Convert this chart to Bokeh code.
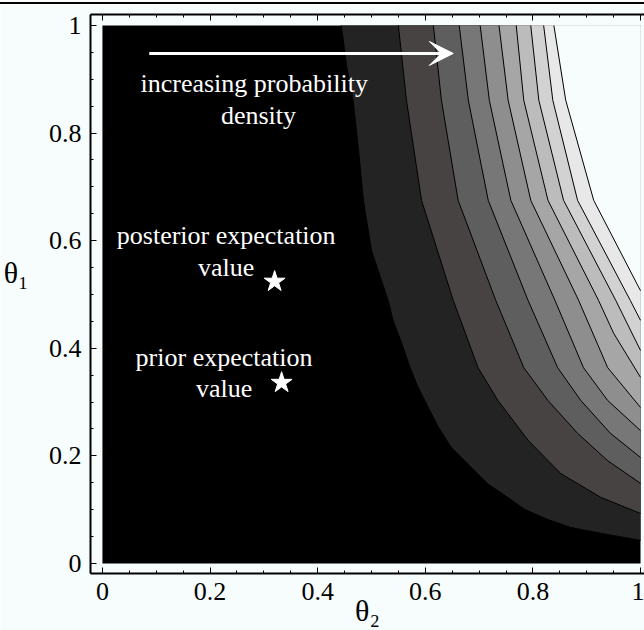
from bokeh.plotting import figure
from bokeh.models import Range1d, LinearAxis, FixedTicker, Arrow, VeeHead, Div
from bokeh.layouts import column
from bokeh.embed import file_html
from bokeh.resources import INLINE
from bokeh.core.properties import value

# ---- data ----
# contour boundaries, each running from the top edge (theta1 = 1) to the right edge (theta2 = 1)
b1_t2 = [0.444, 0.454, 0.466, 0.476, 0.485, 0.500, 0.531, 0.540, 0.556, 0.571, 0.586, 0.605,
         0.624, 0.648, 0.679, 0.716, 0.753, 0.784, 0.827, 0.870, 0.932, 1.0]
b1_t1 = [1.0, 0.923, 0.861, 0.768, 0.675, 0.582, 0.489, 0.452, 0.410, 0.366, 0.329, 0.291,
         0.254, 0.216, 0.185, 0.148, 0.123, 0.101, 0.082, 0.067, 0.055, 0.043]
b2_t2 = [0.550, 0.565, 0.593, 0.652, 0.698, 0.735, 0.791, 0.852, 0.926, 1.0]
b2_t1 = [1.0, 0.861, 0.675, 0.489, 0.364, 0.303, 0.229, 0.167, 0.123, 0.093]
b3_t2 = [0.615, 0.630, 0.661, 0.731, 0.783, 0.828, 0.883, 0.939, 1.0]
b3_t1 = [1.0, 0.861, 0.675, 0.489, 0.364, 0.303, 0.242, 0.191, 0.149]
b4_t2 = [0.663, 0.680, 0.717, 0.791, 0.846, 0.889, 0.944, 1.0]
b4_t1 = [1.0, 0.861, 0.675, 0.489, 0.364, 0.303, 0.242, 0.197]
b5_t2 = [0.702, 0.719, 0.759, 0.841, 0.894, 0.939, 1.0]
b5_t1 = [1.0, 0.861, 0.675, 0.489, 0.364, 0.303, 0.247]
b6_t2 = [0.737, 0.754, 0.796, 0.885, 0.939, 1.0]
b6_t1 = [1.0, 0.861, 0.675, 0.489, 0.364, 0.290]
b7_t2 = [0.769, 0.783, 0.828, 0.922, 0.950, 1.0]
b7_t1 = [1.0, 0.861, 0.675, 0.489, 0.428, 0.346]
b8_t2 = [0.796, 0.811, 0.857, 0.954, 1.0]
b8_t1 = [1.0, 0.861, 0.675, 0.489, 0.396]
b9_t2 = [0.820, 0.837, 0.883, 0.981, 1.0]
b9_t1 = [1.0, 0.861, 0.675, 0.489, 0.452]
b10_t2 = [0.839, 0.861, 0.913, 1.0]
b10_t1 = [1.0, 0.861, 0.675, 0.507]

boundaries_t2 = [b1_t2, b2_t2, b3_t2, b4_t2, b5_t2, b6_t2, b7_t2, b8_t2, b9_t2, b10_t2]
boundaries_t1 = [b1_t1, b2_t1, b3_t1, b4_t1, b5_t1, b6_t1, b7_t1, b8_t1, b9_t1, b10_t1]
band_colors = ["#232323", "#474343", "#5e5e5e", "#777777", "#8e8e8e",
               "#a6a6a6", "#bcbcbc", "#d2d2d2", "#e8e8e8", "#f7fcfc"]

domain_min = 0.0
domain_max = 1.0

star_t2 = [0.320, 0.333]   # posterior, prior expectation values
star_t1 = [0.524, 0.336]

text_lines = ["increasing probability", "density",
              "posterior expectation", "value",
              "prior expectation", "value"]
text_t2 = [0.282, 0.290, 0.230, 0.230, 0.226, 0.226]
text_t1 = [0.892, 0.833, 0.610, 0.551, 0.383, 0.325]

arrow_start = (0.087, 0.948)
arrow_end = (0.652, 0.948)

tick_values = [0, 0.2, 0.4, 0.6, 0.8, 1.0]
tick_labels = ["0", "0.2", "0.4", "0.6", "0.8", "1"]
minor_tick_values = [i * 0.05 for i in range(21)]

y_title = "θ₁"
y_title_at = [0.54]
x_title = "θ₂"

BG = "#f7fcfc"
FONT = "Liberation Serif"

p = figure(width=644, height=626, output_backend="svg", toolbar_location=None,
           x_range=Range1d(-0.0222, 1.0074), y_range=Range1d(-0.0186, 1.0204),
           min_border_left=88, min_border_right=0, min_border_top=10, min_border_bottom=57)
p.background_fill_color = BG
p.border_fill_color = BG
p.outline_line_color = None
p.grid.visible = False

# black base of the density domain
p.quad(left=[domain_min], right=[domain_max], bottom=[domain_min], top=[domain_max],
       fill_color="black", line_color=None)

# filled bands, layered from low to high density
for t2, t1, c in zip(boundaries_t2, boundaries_t1, band_colors):
    p.patch(t2 + [domain_max], t1 + [domain_max], fill_color=c, line_color=None)

# contour lines
p.multi_line(xs=boundaries_t2, ys=boundaries_t1, line_color="black", line_width=1)

# stars
p.scatter(star_t2, star_t1, marker="star", size=22, fill_color="white", line_color="white")

# annotation texts
p.text(text_t2, text_t1, text=text_lines, text_color="white", text_font=value(FONT),
       text_font_size="26px", text_align="center", text_baseline="alphabetic")

p.add_layout(Arrow(end=VeeHead(size=24, fill_color="white", line_color="white"),
                   x_start=arrow_start[0], y_start=arrow_start[1],
                   x_end=arrow_end[0], y_end=arrow_end[1],
                   line_color="white", line_width=3))

ticker = FixedTicker(ticks=tick_values, minor_ticks=minor_tick_values)
overrides = {v: s for v, s in zip(tick_values, tick_labels)}

def style_axis(ax, labels=True):
    ax.ticker = ticker
    ax.axis_line_width = 2
    ax.axis_line_color = "black"
    ax.major_tick_in = 6
    ax.major_tick_out = 0
    ax.minor_tick_in = 3
    ax.minor_tick_out = 0
    ax.major_tick_line_color = "black"
    ax.minor_tick_line_color = "black"
    ax.major_label_overrides = overrides
    ax.major_label_text_font = FONT
    if labels:
        ax.major_label_text_color = "black"
        ax.major_label_text_font_size = "26px"
        ax.major_label_standoff = 9
    else:
        ax.major_label_text_color = None
        ax.major_label_text_font_size = "1px"
        ax.major_label_standoff = 0

bottom = p.below[0]
left = p.left[0]
style_axis(bottom)
style_axis(left)
top = LinearAxis()
style_axis(top, labels=False)
p.add_layout(top, "above")

# x title as axis label, pulled up so the frame keeps its place
bottom.axis_label = x_title
bottom.axis_label_text_font = FONT
bottom.axis_label_text_font_style = "normal"
bottom.axis_label_text_font_size = "30px"
bottom.axis_label_text_color = "black"
bottom.axis_label_text_line_height = 0.7
bottom.axis_label_standoff = -9

# y title as a horizontal label on an extra, line-less axis
ya2 = LinearAxis(ticker=FixedTicker(ticks=y_title_at, minor_ticks=[]),
                 major_label_overrides={y_title_at[0]: y_title},
                 axis_line_color=None, major_tick_line_color=None, minor_tick_line_color=None,
                 major_label_text_font=FONT, major_label_text_font_size="30px",
                 major_label_text_color="black", major_label_standoff=11)
p.add_layout(ya2, "left")

sep = Div(text="", width=644, height=2, margin=(2, 0, 0, 0), styles={"background-color": "black"})
layout = column(sep, p, spacing=0)

open("out.html", "w").write(file_html(layout, INLINE))
